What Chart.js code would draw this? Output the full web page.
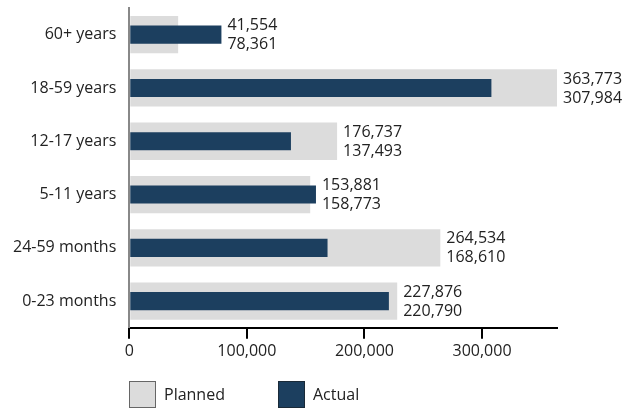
<!DOCTYPE html>
<html>
<head>
<meta charset="utf-8">
<script src="https://cdn.jsdelivr.net/npm/chart.js@4.4.1/dist/chart.umd.min.js"></script>
<style>
  html, body { margin: 0; padding: 0; background: #fff; }
  #wrap { width: 637px; height: 410px; position: relative; }
</style>
</head>
<body>
<div id="wrap"><canvas id="ageChart"></canvas></div>
<script>
// Age groups, top to bottom
const categories = ['60+ years', '18-59 years', '12-17 years', '5-11 years', '24-59 months', '0-23 months'];
const planned = [41554, 363773, 176737, 153881, 264534, 227876];
const actual = [78361, 307984, 137493, 158773, 168610, 220790];
const xTicks = [0, 100000, 200000, 300000];

const NAVY = '#1c3f5f';
const GREY = '#dcdcdc';
const TEXT = '#222222';
const FONT = "'Open Sans', 'Noto Sans', sans-serif";
const FSIZE = 16;

Chart.defaults.font.family = FONT;
Chart.defaults.font.size = FSIZE;
Chart.defaults.color = TEXT;

const fmt = v => v.toLocaleString('en-US');

// writes planned / actual values to the right of the longer bar
const valueLabels = {
    id: 'valueLabels',
    afterDatasetsDraw(chart) {
        const ctx = chart.ctx;
        const x = chart.scales.x;
        const y = chart.scales.y;
        ctx.save();
        ctx.font = FSIZE + 'px ' + FONT;
        ctx.fillStyle = TEXT;
        ctx.textAlign = 'left';
        ctx.textBaseline = 'middle';
        categories.forEach((c, i) => {
            const px = x.getPixelForValue(Math.max(planned[i], actual[i])) + 6;
            const py = y.getPixelForValue(i);
            ctx.fillText(fmt(planned[i]), px, py - 9);
            ctx.fillText(fmt(actual[i]), px, py + 10);
        });
        ctx.restore();
    }
};

// legend lined up with the plot's left edge
const boxLegend = {
    id: 'boxLegend',
    afterDraw(chart) {
        const ctx = chart.ctx;
        const left = chart.chartArea.left;
        const items = [
            { text: 'Planned', fill: GREY, stroke: '#666666', dx: 0 },
            { text: 'Actual', fill: NAVY, stroke: '#1a2a38', dx: 149 }
        ];
        ctx.save();
        ctx.font = FSIZE + 'px ' + FONT;
        ctx.textBaseline = 'middle';
        items.forEach(it => {
            const bx = Math.round(left) + it.dx;
            ctx.fillStyle = it.fill;
            ctx.strokeStyle = it.stroke;
            ctx.lineWidth = 1;
            ctx.fillRect(bx + 0.5, 381.5, 26, 26);
            ctx.strokeRect(bx + 0.5, 381.5, 26, 26);
            ctx.fillStyle = TEXT;
            ctx.fillText(it.text, bx + 35, 395);
        });
        ctx.restore();
    }
};

function drawChart() {
    new Chart(document.getElementById('ageChart'), {
        type: 'bar',
        data: {
            labels: categories,
            datasets: [
                {
                    label: 'Planned',
                    data: planned,
                    backgroundColor: GREY,
                    barPercentage: 0.7,
                    categoryPercentage: 1,
                    grouped: false,
                    order: 2
                },
                {
                    label: 'Actual',
                    data: actual,
                    backgroundColor: NAVY,
                    barPercentage: 0.34,
                    categoryPercentage: 1,
                    grouped: false,
                    order: 1
                }
            ]
        },
        options: {
            indexAxis: 'y',
            responsive: true,
            maintainAspectRatio: false,
            animation: false,
            layout: { padding: { top: 8, right: 80, bottom: 46, left: 0 } },
            scales: {
                x: {
                    min: 0,
                    max: Math.max(...planned, ...actual),
                    grid: {
                        drawOnChartArea: false,
                        drawTicks: true,
                        tickLength: 11,
                        color: '#000',
                        lineWidth: 2
                    },
                    border: { color: '#000', width: 2 },
                    afterBuildTicks: axis => {
                        axis.ticks = xTicks.map(v => ({ value: v }));
                    },
                    ticks: {
                        padding: 3,
                        maxRotation: 0,
                        callback: v => fmt(v)
                    }
                },
                y: {
                    grid: { display: false, drawTicks: false },
                    border: { color: '#888888', width: 2 },
                    ticks: { padding: 13 },
                    afterFit: s => { s.paddingTop = 0; s.paddingBottom = 0; }
                }
            },
            plugins: {
                legend: { display: false },
                tooltip: { enabled: false }
            }
        },
        plugins: [valueLabels, boxLegend]
    });
}

document.fonts.load(FSIZE + "px 'Open Sans'").then(drawChart, drawChart);
</script>
</body>
</html>
